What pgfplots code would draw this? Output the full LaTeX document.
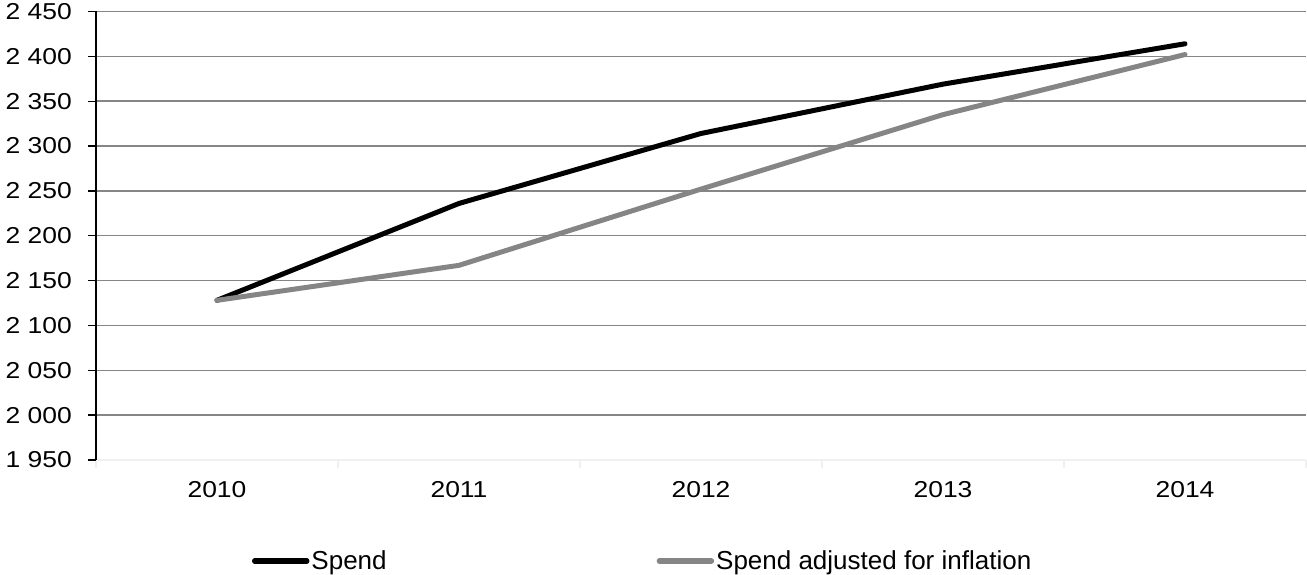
\documentclass[border=0pt]{standalone}
\usepackage{pgfplots}
\pgfplotsset{compat=1.18}
\usepackage{fontspec}
\setmainfont{Liberation Sans}
\newfontfamily\widesans{Liberation Sans}[FakeStretch=1.15]
\newcommand\tlfont{\widesans\fontsize{23bp}{27bp}\selectfont}
\newcommand\legfont{\fontsize{26bp}{30bp}\selectfont}
\definecolor{gridgray}{HTML}{868686}
\definecolor{adjgray}{HTML}{858585}
\definecolor{faint}{HTML}{F0F0F0}
\begin{document}
\begin{tikzpicture}[x=1bp,y=1bp]
\begin{axis}[
  at={(96bp,115bp)}, anchor=south west,
  scale only axis, width=1210bp, height=448.5bp,
  xmin=-0.5, xmax=4.5, ymin=1950, ymax=2450,
  xtick={0,...,4}, xticklabels={2010,2011,2012,2013,2014},
  minor xtick={-0.5,0.5,...,4.5},
  ytick={2000,2050,...,2450},
  extra y ticks={1950}, extra y tick style={grid=none},
  ymajorgrids, grid style={gridgray, line width=1.4bp},
  axis lines*=left,
  axis line style={-},
  x axis line style={faint, line width=1.3bp},
  y axis line style={black, line width=1.8bp},
  tick align=outside,
  major tick length=8bp, minor tick length=8bp,
  major x tick style={draw=none},
  minor x tick style={faint, line width=1.3bp},
  ytick style={black, line width=1.3bp},
  /pgf/number format/assume math mode=true,
  /pgf/number format/1000 sep={\ },
  yticklabel style={font=\tlfont, inner sep=0pt, xshift=-16bp},
  xticklabel style={font=\tlfont, inner sep=0pt, yshift=-13.7bp},
  legend columns=2,
  legend image code/.code={\draw[#1, line cap=round, line width=5.5bp] (0bp,0bp) -- (52bp,0bp);},
  legend style={at={(axis description cs:0.1289,-0.2252)}, anchor=west,
    draw=none, fill=none, inner sep=0pt, outer sep=0pt, font=\legfont,
    nodes={inner sep=0pt},
    /tikz/every odd column/.append style={column sep=2bp},
    /tikz/every even column/.append style={column sep=270bp}},
  legend cell align=left,
]
\addplot[black, line width=5bp, line join=round, line cap=round] coordinates {
  (0,2128) (1,2236) (2,2314) (3,2369) (4,2414)};
\addlegendentry{Spend}
\addplot[adjgray, line width=5bp, line join=round, line cap=round] coordinates {
  (0,2128) (1,2167) (2,2252) (3,2335) (4,2402)};
\addlegendentry{Spend adjusted for inflation}
\end{axis}
\pgfresetboundingbox
\path[use as bounding box] (0,0) rectangle (1307,575);
\end{tikzpicture}
\end{document}
